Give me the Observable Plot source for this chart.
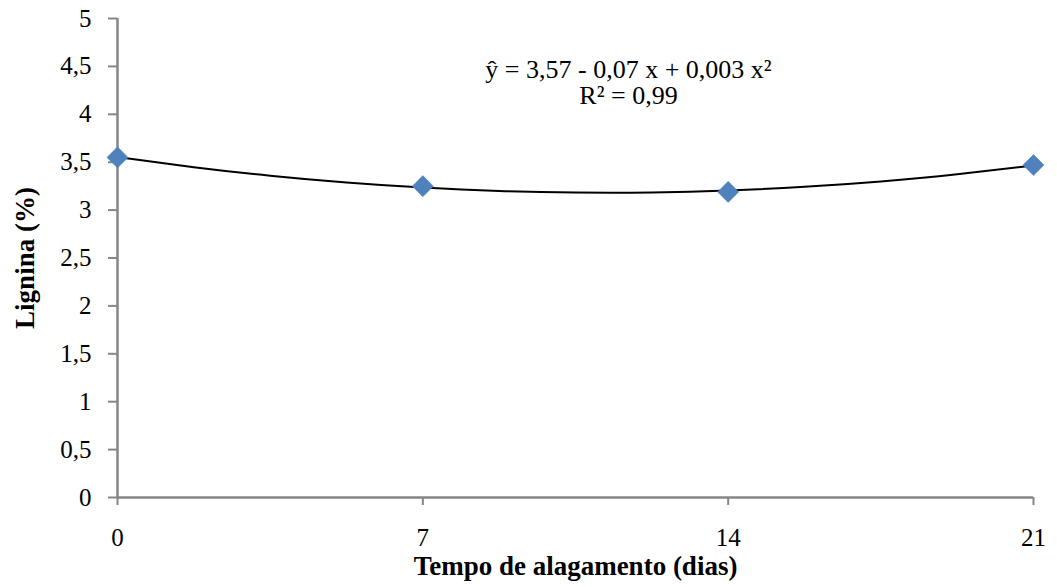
<!DOCTYPE html>
<html>
<head>
<meta charset="utf-8">
<script src="https://cdn.jsdelivr.net/npm/d3@7"></script>
<script src="https://cdn.jsdelivr.net/npm/@observablehq/plot@0.6"></script>
<style>
  html, body { margin: 0; padding: 0; background: #fff; }
  #chart { width: 1057px; height: 587px; }
  #chart svg, #chart svg text { font-family: "Liberation Serif", "Times New Roman", serif !important; }
</style>
</head>
<body>
<div id="chart"></div>
<script>
// Observed points
const days = [0, 7, 14, 21];
const lignina = [3.55, 3.25, 3.19, 3.47];

// Trend curve, values
const curveX = [0, 1.75, 3.5, 5.25, 7, 8.75, 10.5, 12.25, 14, 15.75, 17.5, 19.25, 21];
const curveY = [3.555, 3.448, 3.359, 3.288, 3.235, 3.200, 3.184, 3.185, 3.205, 3.243, 3.299, 3.373, 3.465];

const xTicks = [0, 7, 14, 21];
const yTicks = [0, 0.5, 1, 1.5, 2, 2.5, 3, 3.5, 4, 4.5, 5];

const equationText = "ŷ = 3,57 - 0,07 x + 0,003 x²\nR² = 0,99";
const xLabel = "Tempo de alagamento (dias)";
const yLabel = "Lignina (%)";

const points = days.map((d, i) => ({x: d, y: lignina[i]}));
const curve = curveX.map((d, i) => ({x: d, y: curveY[i]}));
const fmt = d => String(d).replace(".", ",");
const axisColor = "#868686";

const chart = Plot.plot({
  width: 1057,
  height: 587,
  marginLeft: 117,
  marginRight: 24,
  marginTop: 18,
  marginBottom: 90,
  style: "font-family: 'Liberation Serif', serif; font-size: 25px; color: #000; background: #fff;",
  x: {domain: [0, 21]},
  y: {domain: [0, 5]},
  marks: [
    Plot.axisY({ticks: yTicks, tickFormat: fmt, tickSize: 9, tickPadding: 17, stroke: axisColor, strokeWidth: 2, fill: "#000", fontSize: 25, label: null}),
    Plot.axisX({ticks: xTicks, tickFormat: fmt, tickSize: 8, tickPadding: 23, stroke: axisColor, strokeWidth: 2, fill: "#000", fontSize: 25, label: null}),
    Plot.ruleX([0], {stroke: axisColor, strokeWidth: 2.5}),
    Plot.ruleY([0], {stroke: axisColor, strokeWidth: 2.5}),
    Plot.line(curve, {x: "x", y: "y", stroke: "#000", strokeWidth: 2, curve: "natural"}),
    Plot.dot(points, {x: "x", y: "y", symbol: "diamond2", r: 9.5, fill: "#4F81BD", stroke: "#4F81BD", strokeWidth: 0.5}),
    Plot.text([equationText], {frameAnchor: "top", dx: 53, dy: 40, lineAnchor: "top", lineHeight: 1.03, fontSize: 26, fill: "#000"}),
    Plot.text([xLabel], {frameAnchor: "bottom", dy: 77, fontSize: 27, fontWeight: "bold", fill: "#000"}),
    Plot.text([yLabel], {frameAnchor: "left", dx: -92, rotate: -90, textAnchor: "middle", fontSize: 27, fontWeight: "bold", fill: "#000"})
  ]
});
document.getElementById("chart").appendChild(chart);
</script>
</body>
</html>
